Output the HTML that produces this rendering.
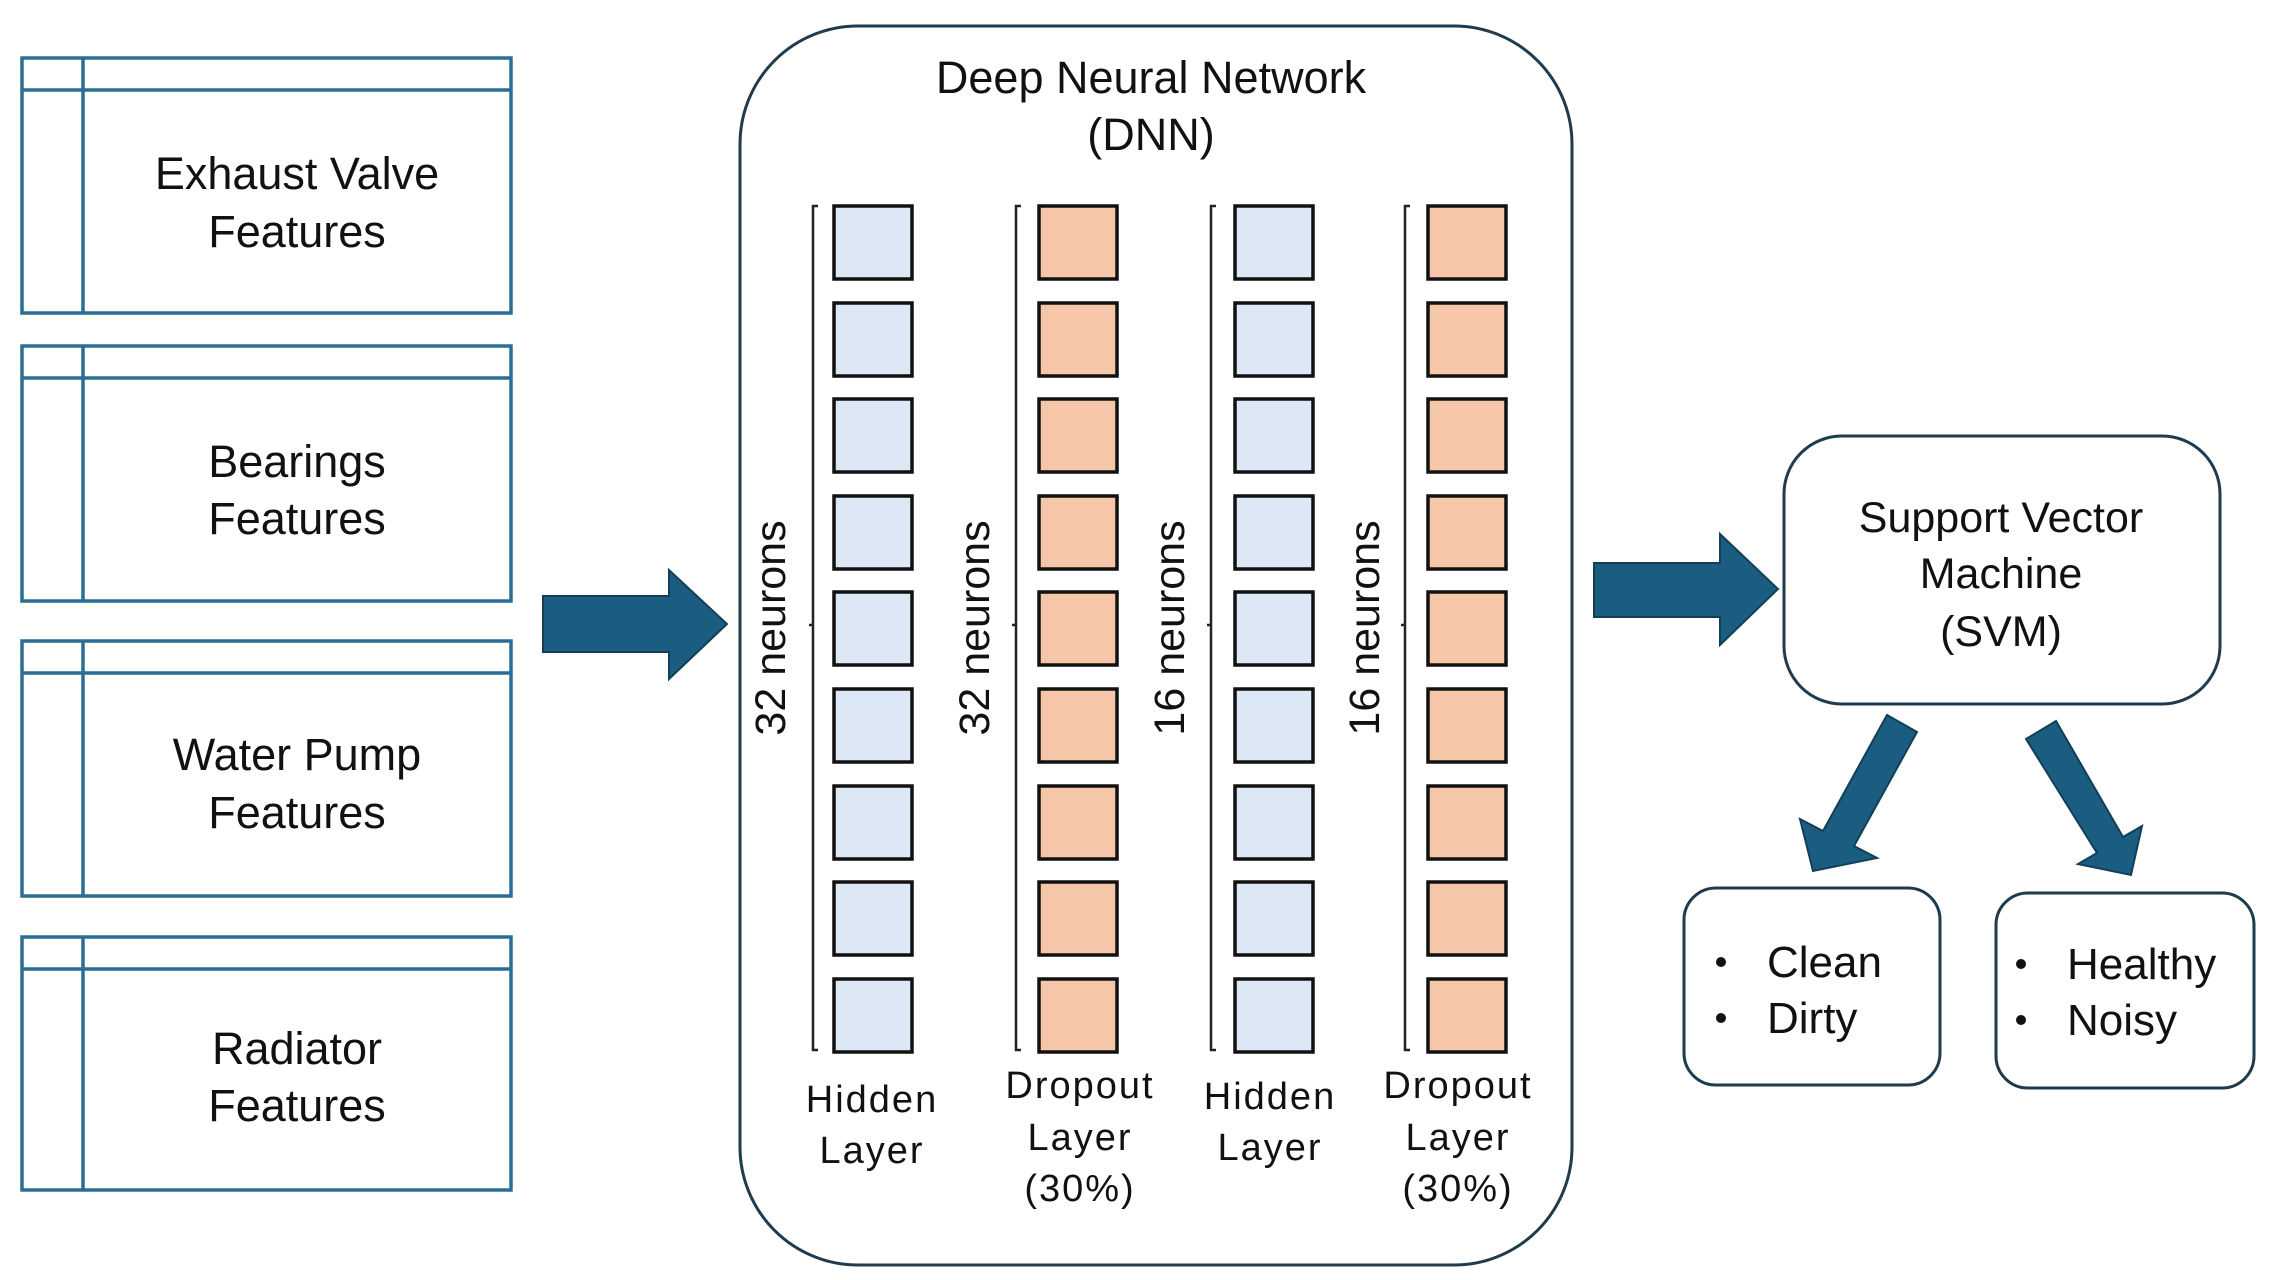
<!DOCTYPE html>
<html><head><meta charset="utf-8"><style>
html,body{margin:0;padding:0;background:#fff;}
svg{display:block;}
text{font-family:"Liberation Sans",sans-serif;fill:#111;}
</style></head><body>
<svg width="2270" height="1280" viewBox="0 0 2270 1280" xmlns="http://www.w3.org/2000/svg">
<g fill="none" stroke="#2a6f93" stroke-width="3.5">
  <rect x="22" y="58" width="489" height="255"/><line x1="22" y1="90" x2="511" y2="90"/><line x1="83" y1="58" x2="83" y2="313"/>
  <rect x="22" y="346" width="489" height="255"/><line x1="22" y1="378" x2="511" y2="378"/><line x1="83" y1="346" x2="83" y2="601"/>
  <rect x="22" y="641" width="489" height="255"/><line x1="22" y1="673" x2="511" y2="673"/><line x1="83" y1="641" x2="83" y2="896"/>
  <rect x="22" y="937" width="489" height="253"/><line x1="22" y1="969" x2="511" y2="969"/><line x1="83" y1="937" x2="83" y2="1190"/>
</g>
<g font-size="45" text-anchor="middle">
  <text x="297" y="189">Exhaust Valve</text><text x="297" y="247">Features</text>
  <text x="297" y="477">Bearings</text><text x="297" y="534">Features</text>
  <text x="297" y="770">Water Pump</text><text x="297" y="828">Features</text>
  <text x="297" y="1064">Radiator</text><text x="297" y="1121">Features</text>
</g>
<g fill="#1a5d80" stroke="#123f57" stroke-width="2">
  <polygon points="543,596 669,596 669,570 727,624 669,679 669,652 543,652"/>
  <polygon points="1594,563 1720,563 1720,534 1778,589 1720,645 1720,617 1594,617"/>
  <polygon points="1887,715 1917,732 1854,846 1877,858 1813,871 1800,819 1823,831"/>
  <polygon points="2026,739 2056,721 2123,837 2142,826 2131,875 2078,864 2097,853"/>
</g>
<rect x="740" y="26" width="832" height="1239" rx="118" fill="none" stroke="#1f3b4d" stroke-width="3"/>
<g font-size="45" text-anchor="middle">
  <text x="1151" y="93">Deep Neural Network</text>
  <text x="1151" y="150">(DNN)</text>
</g>
<g stroke="#111" stroke-width="3.5">
  <g fill="#dce8f5">
    <rect x="834" y="206" width="78" height="73"/><rect x="834" y="303" width="78" height="73"/><rect x="834" y="399" width="78" height="73"/>
    <rect x="834" y="496" width="78" height="73"/><rect x="834" y="592" width="78" height="73"/><rect x="834" y="689" width="78" height="73"/>
    <rect x="834" y="786" width="78" height="73"/><rect x="834" y="882" width="78" height="73"/><rect x="834" y="979" width="78" height="73"/>
  </g>
  <g fill="#f6c6a8">
    <rect x="1039" y="206" width="78" height="73"/><rect x="1039" y="303" width="78" height="73"/><rect x="1039" y="399" width="78" height="73"/>
    <rect x="1039" y="496" width="78" height="73"/><rect x="1039" y="592" width="78" height="73"/><rect x="1039" y="689" width="78" height="73"/>
    <rect x="1039" y="786" width="78" height="73"/><rect x="1039" y="882" width="78" height="73"/><rect x="1039" y="979" width="78" height="73"/>
  </g>
  <g fill="#dce8f5">
    <rect x="1235" y="206" width="78" height="73"/><rect x="1235" y="303" width="78" height="73"/><rect x="1235" y="399" width="78" height="73"/>
    <rect x="1235" y="496" width="78" height="73"/><rect x="1235" y="592" width="78" height="73"/><rect x="1235" y="689" width="78" height="73"/>
    <rect x="1235" y="786" width="78" height="73"/><rect x="1235" y="882" width="78" height="73"/><rect x="1235" y="979" width="78" height="73"/>
  </g>
  <g fill="#f6c6a8">
    <rect x="1428" y="206" width="78" height="73"/><rect x="1428" y="303" width="78" height="73"/><rect x="1428" y="399" width="78" height="73"/>
    <rect x="1428" y="496" width="78" height="73"/><rect x="1428" y="592" width="78" height="73"/><rect x="1428" y="689" width="78" height="73"/>
    <rect x="1428" y="786" width="78" height="73"/><rect x="1428" y="882" width="78" height="73"/><rect x="1428" y="979" width="78" height="73"/>
  </g>
</g>
<g fill="none" stroke="#222" stroke-width="2.5">
  <path d="M818,206 L813,206 L813,1050 L818,1050 M813,625 L809,625"/>
  <path d="M1021,206 L1016,206 L1016,1050 L1021,1050 M1016,625 L1012,625"/>
  <path d="M1216,206 L1211,206 L1211,1050 L1216,1050 M1211,625 L1207,625"/>
  <path d="M1410,206 L1405,206 L1405,1050 L1410,1050 M1405,625 L1401,625"/>
</g>
<g font-size="43" text-anchor="middle">
  <text transform="translate(785,628) rotate(-90)">32 neurons</text>
  <text transform="translate(989,628) rotate(-90)">32 neurons</text>
  <text transform="translate(1184,628) rotate(-90)">16 neurons</text>
  <text transform="translate(1379,628) rotate(-90)">16 neurons</text>
</g>
<g font-size="38" text-anchor="middle" letter-spacing="2">
  <text x="872" y="1112">Hidden</text><text x="872" y="1163">Layer</text>
  <text x="1080" y="1098">Dropout</text><text x="1080" y="1150">Layer</text><text x="1080" y="1201">(30%)</text>
  <text x="1270" y="1109">Hidden</text><text x="1270" y="1160">Layer</text>
  <text x="1458" y="1098">Dropout</text><text x="1458" y="1150">Layer</text><text x="1458" y="1201">(30%)</text>
</g>
<g fill="none" stroke="#1f3b4d" stroke-width="3">
  <rect x="1784" y="436" width="436" height="268" rx="58"/>
  <rect x="1684" y="888" width="256" height="197" rx="32"/>
  <rect x="1996" y="893" width="258" height="195" rx="32"/>
</g>
<g font-size="43" text-anchor="middle">
  <text x="2001" y="532">Support Vector</text>
  <text x="2001" y="588">Machine</text>
  <text x="2001" y="646">(SVM)</text>
</g>
<g font-size="44">
  <circle cx="1721" cy="962" r="5" fill="#111"/><text x="1767" y="977">Clean</text>
  <circle cx="1721" cy="1018" r="5" fill="#111"/><text x="1767" y="1033">Dirty</text>
  <circle cx="2021" cy="964" r="5" fill="#111"/><text x="2067" y="979">Healthy</text>
  <circle cx="2021" cy="1020" r="5" fill="#111"/><text x="2067" y="1035">Noisy</text>
</g>
</svg>
</body></html>
